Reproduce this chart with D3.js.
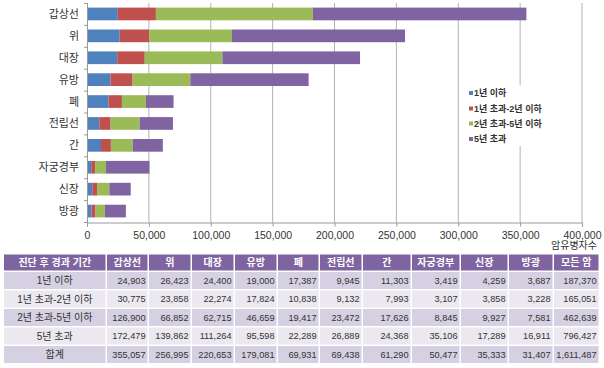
<!DOCTYPE html>
<html lang="ko">
<head>
<meta charset="utf-8">
<title>암유병자수</title>
<script src="https://d3js.org/d3.v7.min.js"></script>
<style>
  body { margin: 0; background: #fff; }
  svg { font-family: "Liberation Sans", "Noto Sans CJK KR", sans-serif; }
  .tick text { fill: #333; }
</style>
</head>
<body>
<div id="chart"></div>
<script>
// categories (cancer sites)
const categories = ["갑상선", "위", "대장", "유방", "폐", "전립선", "간", "자궁경부", "신장", "방광"];
// series: period after diagnosis
const seriesNames = ["1년 이하", "1년 초과-2년 이하", "2년 초과-5년 이하", "5년 초과"];
const within1 = [24903, 26423, 24400, 19000, 17387, 9945, 11303, 3419, 4259, 3687];
const y1to2 = [30775, 23858, 22274, 17824, 10838, 9132, 7993, 3107, 3858, 3228];
const y2to5 = [126900, 66852, 62715, 46659, 19417, 23472, 17626, 8845, 9927, 7581];
const over5 = [172479, 139862, 111264, 95598, 22289, 26889, 24368, 35106, 17289, 16911];
const totals = [355057, 256995, 220653, 179081, 69931, 69438, 61290, 50477, 35333, 31407];
// 모든 암 column
const allCancer = [187370, 165051, 462639, 796427, 1611487];
const xTicks = [0, 50000, 100000, 150000, 200000, 250000, 300000, 350000, 400000];

const colors = ["#4F81BD", "#C0504D", "#9BBB59", "#8064A2"];
const seriesValues = [within1, y1to2, y2to5, over5];

const W = 604, H = 368;
const svg = d3.select("#chart").append("svg").attr("width", W).attr("height", H);

// ---- bar chart ----
const x = d3.scaleLinear().domain([0, 400000]).range([87, 582]);
const y = d3.scaleBand().domain(categories).range([3, 222]).paddingInner(0.42).paddingOuter(0.21);

// gridlines
svg.append("g").selectAll("line").data(xTicks.slice(1)).join("line")
  .attr("x1", d => x(d)).attr("x2", d => x(d))
  .attr("y1", 3).attr("y2", 222)
  .attr("stroke", "#b3b3b3").attr("stroke-width", 1);

// stacked bars
const rows = categories.map((c, i) => {
  const r = { cat: c };
  seriesNames.forEach((s, j) => r[s] = seriesValues[j][i]);
  return r;
});
const stack = d3.stack().keys(seriesNames)(rows);
svg.append("g").selectAll("g").data(stack).join("g")
  .attr("fill", (d, i) => colors[i])
  .selectAll("rect").data(d => d).join("rect")
  .attr("x", d => x(d[0]))
  .attr("width", d => x(d[1]) - x(d[0]))
  .attr("y", d => y(d.data.cat))
  .attr("height", y.bandwidth());

// x axis
const xAxis = svg.append("g").attr("transform", "translate(0,222.5)")
  .call(d3.axisBottom(x).tickValues(xTicks).tickFormat(d3.format(",")).tickSizeOuter(0).tickSize(4));
xAxis.select(".domain").attr("stroke", "#999");
xAxis.selectAll(".tick line").attr("stroke", "#999");
xAxis.selectAll("text").attr("font-size", 10.5).attr("dy", "0.9em");

// y axis line with ticks at band boundaries
svg.append("line").attr("x1", 87.5).attr("x2", 87.5).attr("y1", 3).attr("y2", 223)
  .attr("stroke", "#999");
const bounds = d3.range(categories.length + 1).map(i => 3 + i * (219 / categories.length));
svg.append("g").selectAll("line").data(bounds).join("line")
  .attr("x1", 84).attr("x2", 87.5)
  .attr("y1", d => d + 0.5).attr("y2", d => d + 0.5)
  .attr("stroke", "#999");
svg.append("g").selectAll("text").data(categories).join("text")
  .attr("x", 79).attr("y", d => y(d) + y.bandwidth() / 2)
  .attr("dy", "0.36em").attr("text-anchor", "end")
  .attr("font-size", 11).attr("fill", "#333")
  .text(d => d);

// legend
const lg = svg.append("g");
lg.append("rect").attr("x", 466).attr("y", 85).attr("width", 80).attr("height", 61).attr("fill", "#fff");
const legY = [93, 108.5, 123.5, 139];
seriesNames.forEach((s, i) => {
  lg.append("rect").attr("x", 469).attr("y", legY[i] - 2).attr("width", 4).attr("height", 4).attr("fill", colors[i]);
  lg.append("text").attr("x", 474).attr("y", legY[i]).attr("dy", "0.36em")
    .attr("font-size", 9).attr("font-weight", "bold").attr("fill", "#333").text(s);
});

// axis title
svg.append("text").attr("x", 597).attr("y", 245).attr("dy", "0.36em").attr("text-anchor", "end")
  .attr("font-size", 10).attr("fill", "#333").text("암유병자수");

// ---- table ----
const colEdges = [4, 107, 149, 192, 235, 278, 320, 363, 412, 461, 509, 554, 600];
const rowEdges = [254.5, 272, 290.5, 309, 327.5, 346, 364.5];
const headers = ["진단 후 경과 기간"].concat(categories, ["모든 암"]);
const rowLabels = seriesNames.concat(["합계"]);
const tableRows = seriesValues.concat([totals]).map((vals, i) => [rowLabels[i]].concat(vals, [allCancer[i]]));
const fmt = d3.format(",");
const tb = svg.append("g");
const gap = 1.5;

headers.forEach((h, c) => {
  const x0 = colEdges[c], x1 = colEdges[c + 1] - gap;
  tb.append("rect").attr("x", x0).attr("y", rowEdges[0]).attr("width", x1 - x0)
    .attr("height", rowEdges[1] - rowEdges[0] - gap).attr("fill", "#8064A2");
  tb.append("text").attr("x", (x0 + x1) / 2).attr("y", (rowEdges[0] + rowEdges[1] - gap) / 2)
    .attr("dy", "0.36em").attr("text-anchor", "middle").attr("font-size", 10)
    .attr("font-weight", "bold").attr("fill", "#fff").text(h);
});

tableRows.forEach((r, ri) => {
  const y0 = rowEdges[ri + 1], y1 = rowEdges[ri + 2] - gap;
  const fill = ri % 2 === 0 ? "#D5D0E2" : "#EBE8F0";
  r.forEach((v, c) => {
    const x0 = colEdges[c], x1 = colEdges[c + 1] - gap;
    tb.append("rect").attr("x", x0).attr("y", y0).attr("width", x1 - x0)
      .attr("height", y1 - y0).attr("fill", fill);
    tb.append("text")
      .attr("x", c === 0 ? (x0 + x1) / 2 : x1 - 2)
      .attr("y", (y0 + y1) / 2).attr("dy", "0.36em")
      .attr("text-anchor", c === 0 ? "middle" : "end")
      .attr("font-size", c === 0 ? 10 : 9.2).attr("fill", "#333")
      .text(c === 0 ? v : fmt(v));
  });
});
</script>
</body>
</html>
